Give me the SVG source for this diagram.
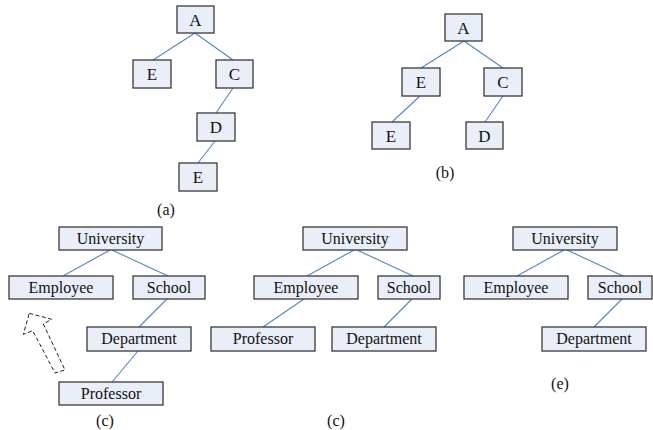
<svg xmlns="http://www.w3.org/2000/svg" width="653" height="430" viewBox="0 0 653 430">
<style>
.box{fill:#e9eef8;stroke:#3a3a3a;stroke-width:1.3}
.t{font-family:"Liberation Serif","Times New Roman",serif;font-size:16px;fill:#111;text-anchor:middle}
.tl{font-family:"Liberation Serif","Times New Roman",serif;font-size:17px;fill:#111;text-anchor:middle}
.lbl{font-family:"Liberation Serif","Times New Roman",serif;font-size:16px;fill:#111;text-anchor:middle}
.c{stroke:#5585c8;stroke-width:1.1;fill:none}
</style>
<rect width="653" height="430" fill="#fff"/>
<g id="connectors">
<line class="c" x1="195" y1="33" x2="153" y2="60"/>
<line class="c" x1="195" y1="33" x2="233" y2="60"/>
<line class="c" x1="233" y1="88" x2="216" y2="113"/>
<line class="c" x1="215" y1="141" x2="198" y2="163"/>
<line class="c" x1="464" y1="41" x2="421" y2="68"/>
<line class="c" x1="464" y1="41" x2="503" y2="68"/>
<line class="c" x1="420" y1="96" x2="392" y2="122"/>
<line class="c" x1="503" y1="96" x2="485" y2="122"/>
<line class="c" x1="110" y1="250" x2="63" y2="276"/>
<line class="c" x1="112" y1="250" x2="168" y2="276"/>
<line class="c" x1="167" y1="299" x2="139" y2="327"/>
<line class="c" x1="138" y1="351" x2="112" y2="382"/>
<line class="c" x1="354" y1="250" x2="307" y2="276"/>
<line class="c" x1="357" y1="250" x2="413" y2="276"/>
<line class="c" x1="304" y1="299" x2="263" y2="327"/>
<line class="c" x1="412" y1="299" x2="384" y2="327"/>
<line class="c" x1="564" y1="250" x2="517" y2="276"/>
<line class="c" x1="567" y1="250" x2="623" y2="276"/>
<line class="c" x1="622" y1="299" x2="594" y2="327"/>
</g>
<g id="a-A"><rect class="box" x="177" y="6" width="37" height="27"/><text class="tl" x="195.5" y="25.5">A</text></g>
<g id="a-E"><rect class="box" x="133" y="60" width="38" height="28"/><text class="tl" x="152" y="80">E</text></g>
<g id="a-C"><rect class="box" x="216" y="60" width="37" height="28"/><text class="tl" x="234.5" y="80">C</text></g>
<g id="a-D"><rect class="box" x="197" y="113" width="38" height="28"/><text class="tl" x="216" y="133">D</text></g>
<g id="a-E2"><rect class="box" x="179" y="163" width="38" height="28"/><text class="tl" x="198" y="183">E</text></g>
<g id="b-A"><rect class="box" x="445" y="14" width="37" height="27"/><text class="tl" x="463.5" y="33.5">A</text></g>
<g id="b-E"><rect class="box" x="402" y="68" width="38" height="28"/><text class="tl" x="421" y="88">E</text></g>
<g id="b-C"><rect class="box" x="484" y="68" width="38" height="28"/><text class="tl" x="503" y="88">C</text></g>
<g id="b-E2"><rect class="box" x="372" y="122" width="38" height="27"/><text class="tl" x="391" y="141.5">E</text></g>
<g id="b-D"><rect class="box" x="466" y="122" width="37" height="27"/><text class="tl" x="484.5" y="141.5">D</text></g>
<g id="c-University"><rect class="box" x="59" y="227" width="103" height="23"/><text class="t" x="110.5" y="244">University</text></g>
<g id="c-Employee"><rect class="box" x="9" y="276" width="104" height="23"/><text class="t" x="61" y="293">Employee</text></g>
<g id="c-School"><rect class="box" x="133" y="276" width="72" height="23"/><text class="t" x="169" y="293">School</text></g>
<g id="c-Department"><rect class="box" x="87" y="327" width="104" height="24"/><text class="t" x="139" y="344">Department</text></g>
<g id="c-Professor"><rect class="box" x="59" y="382" width="104" height="23"/><text class="t" x="111" y="399">Professor</text></g>
<g id="d-University"><rect class="box" x="303" y="227" width="104" height="23"/><text class="t" x="355" y="244">University</text></g>
<g id="d-Employee"><rect class="box" x="254" y="276" width="104" height="23"/><text class="t" x="306" y="293">Employee</text></g>
<g id="d-School"><rect class="box" x="378" y="276" width="62" height="23"/><text class="t" x="409" y="293">School</text></g>
<g id="d-Professor"><rect class="box" x="211" y="327" width="104" height="24"/><text class="t" x="263" y="344">Professor</text></g>
<g id="d-Department"><rect class="box" x="332" y="327" width="104" height="24"/><text class="t" x="384" y="344">Department</text></g>
<g id="e-University"><rect class="box" x="513" y="227" width="104" height="23"/><text class="t" x="565" y="244">University</text></g>
<g id="e-Employee"><rect class="box" x="464" y="276" width="104" height="23"/><text class="t" x="516" y="293">Employee</text></g>
<g id="e-School"><rect class="box" x="588" y="276" width="64" height="23"/><text class="t" x="620" y="293">School</text></g>
<g id="e-Department"><rect class="box" x="542" y="327" width="104" height="24"/><text class="t" x="594" y="344">Department</text></g>
<g id="arrow"><polygon points="29.3,313.3 51.7,319.3 43.3,324 65,370 55,373 32.7,330.7 23.3,334.3" fill="#fff" stroke="#222" stroke-width="1" stroke-dasharray="4,2.5"/></g>
<g id="labels">
<text class="lbl" x="166" y="215">(a)</text>
<text class="lbl" x="445" y="178">(b)</text>
<text class="lbl" x="105" y="426">(c)</text>
<text class="lbl" x="336" y="426">(c)</text>
<text class="lbl" x="560" y="389">(e)</text>
</g>
</svg>
